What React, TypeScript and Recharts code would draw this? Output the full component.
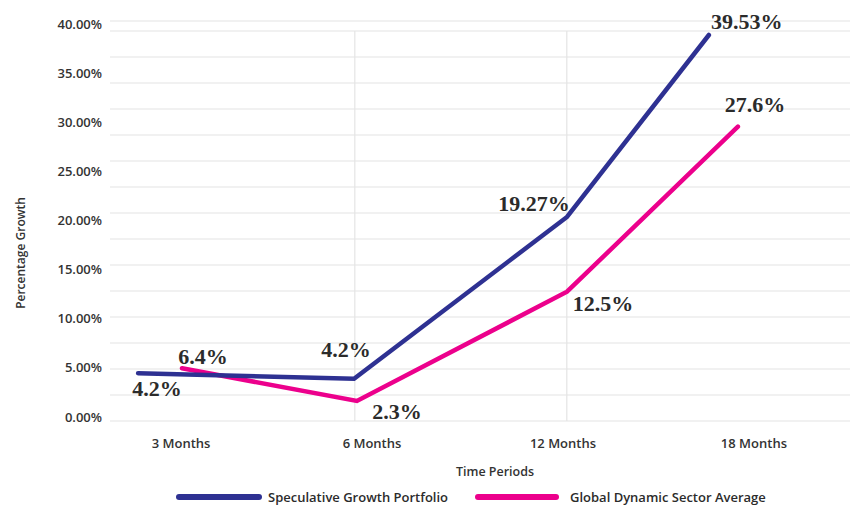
import React from 'react';
import { LineChart, Line, XAxis, YAxis, CartesianGrid, ReferenceLine } from 'recharts';

// categories on the x axis (tick index -> label)
const periods = ['3 Months', '6 Months', '12 Months', '18 Months'];
const periodTicks = [0, 1, 2, 3];

// Speculative Growth Portfolio
const growthX = [-0.225, 0.906, 2.021, 2.764];
const growthY = [4.45, 3.9, 20.36, 38.88];
const growthLabels = ['4.2%', '4.2%', '19.27%', '39.53%'];

// Global Dynamic Sector Average
const sectorX = [0.005, 0.921, 2.021, 2.916];
const sectorY = [4.96, 1.63, 12.75, 29.55];
const sectorLabels = ['6.4%', '2.3%', '12.5%', '27.6%'];

const pctTicks = [0, 5, 10, 15, 20, 25, 30, 35, 40];
const gridRows = [0, 1, 2, 3, 4, 5, 6, 7, 8, 9, 10, 11, 12, 13, 14, 15];
const gridCols = [0.91, 2.02];

const seriesNames = ['Speculative Growth Portfolio', 'Global Dynamic Sector Average'];
const BLUE = '#2e3192';
const PINK = '#ec008c';

// label placement relative to each point (px)
const growthOffsets = [[19, 15], [-8, -29], [-33, -13], [38, -14]];
const sectorOffsets = [[21, -12], [40, 11], [36, 12], [17, -22]];

const growthData = growthX.map((x, i) => ({ x, y: growthY[i] }));
const sectorData = sectorX.map((x, i) => ({ x, y: sectorY[i] }));

const SANS = '"Open Sans", "Noto Sans", sans-serif';

const makeLabel = (texts: string[], offsets: number[][]) => (props: any) => {
  const { x, y, index } = props;
  const i = index ?? 0;
  const [dx, dy] = offsets[i];
  return (
    <text
      x={x + dx}
      y={y + dy}
      textAnchor="middle"
      dominantBaseline="central"
      fontFamily='"Liberation Serif", "Times New Roman", serif'
      fontWeight={700}
      fontSize={22}
      fill="#2b2b2b"
    >
      {texts[i]}
    </text>
  );
};

const YTitle = (props: any) => {
  const vb = props.viewBox;
  const cx = vb.x + 20;
  const cy = vb.y + vb.height / 2 + 32;
  return (
    <text
      transform={`translate(${cx}, ${cy}) rotate(-90)`}
      textAnchor="middle"
      dominantBaseline="central"
      fontFamily={SANS}
      fontWeight={600}
      fontSize={12}
      fill="#333"
    >
      Percentage Growth
    </text>
  );
};

const tickStyle = { fontFamily: SANS, fontWeight: 600, fontSize: 13, fill: '#333' };

export default function App() {
  return (
    <div style={{ position: 'absolute', left: 0, top: 0, width: 851, height: 505, background: '#fff' }}>
      <LineChart width={851} height={505} margin={{ top: 21, right: 1, bottom: 0, left: 0 }}>
        <YAxis
          yAxisId="pct"
          type="number"
          domain={[-0.407, 40.305]}
          ticks={pctTicks}
          allowDataOverflow
          tickFormatter={(v: number) => v.toFixed(2) + '%'}
          axisLine={false}
          tickLine={false}
          width={110}
          tick={tickStyle}
          label={{ content: YTitle }}
        />
        <YAxis yAxisId="grid" hide width={0} type="number" domain={[0, 15.385]} ticks={gridRows} allowDataOverflow />
        <CartesianGrid yAxisId="grid" vertical={false} stroke="#e4e4e4" strokeWidth={1.2} />
        <XAxis
          type="number"
          dataKey="x"
          domain={[-0.372, 3.503]}
          ticks={periodTicks}
          tickFormatter={(v: number) => periods[v]}
          allowDataOverflow
          axisLine={false}
          tickLine={false}
          tickMargin={12}
          height={84}
          tick={tickStyle}
          label={{
            value: 'Time Periods',
            position: 'insideBottom',
            offset: 29,
            dx: 15,
            style: { fontFamily: SANS, fontWeight: 600, fontSize: 12.5, fill: '#333' },
          }}
        />
        {gridCols.map((gx) => (
          <ReferenceLine
            key={gx}
            yAxisId="grid"
            segment={[{ x: gx, y: 0 }, { x: gx, y: 15 }]}
            stroke="#e4e4e4"
            strokeWidth={1.2}
          />
        ))}
        <Line
          yAxisId="pct"
          data={sectorData}
          dataKey="y"
          type="linear"
          stroke={PINK}
          strokeWidth={4.5}
          strokeLinecap="round"
          dot={false}
          activeDot={false}
          isAnimationActive={false}
          label={makeLabel(sectorLabels, sectorOffsets)}
        />
        <Line
          yAxisId="pct"
          data={growthData}
          dataKey="y"
          type="linear"
          stroke={BLUE}
          strokeWidth={4.5}
          strokeLinecap="round"
          dot={false}
          activeDot={false}
          isAnimationActive={false}
          label={makeLabel(growthLabels, growthOffsets)}
        />
      </LineChart>
      <div
        style={{
          position: 'absolute',
          top: 488,
          left: 176,
          display: 'flex',
          alignItems: 'center',
          fontFamily: SANS,
          fontWeight: 600,
          fontSize: 13,
          color: '#2b2b2b',
          whiteSpace: 'nowrap',
          lineHeight: '18px',
        }}
      >
        <span style={{ display: 'inline-block', width: 86, height: 6, borderRadius: 3, background: BLUE, marginRight: 6 }} />
        <span style={{ width: 207 }}>{seriesNames[0]}</span>
        <span style={{ display: 'inline-block', width: 84, height: 6, borderRadius: 3, background: PINK, marginRight: 11 }} />
        <span>{seriesNames[1]}</span>
      </div>
    </div>
  );
}
